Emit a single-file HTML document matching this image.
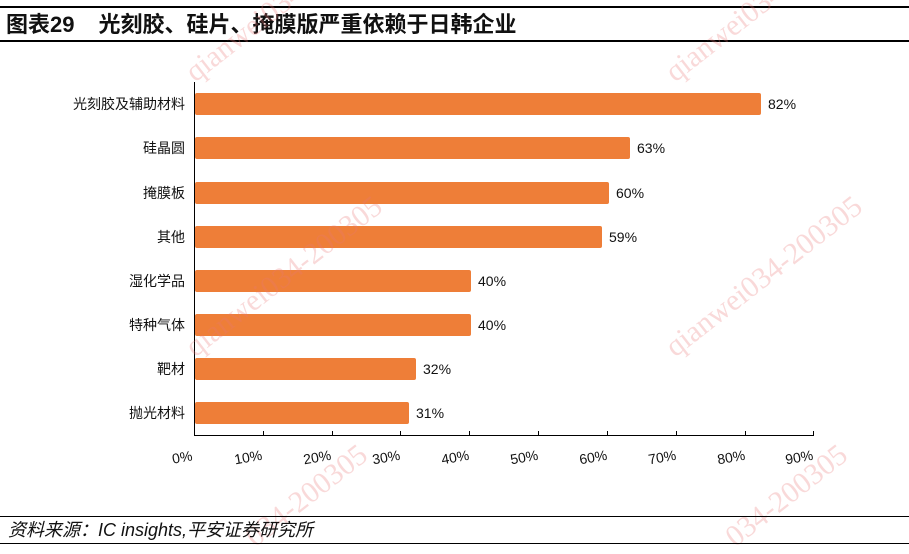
<!DOCTYPE html>
<html><head><meta charset="utf-8"><style>
body{margin:0;width:909px;height:548px;background:#fff;overflow:hidden;font-family:"Liberation Sans","Noto Sans CJK SC",sans-serif;position:relative}
.abs{position:absolute}
.wm{position:absolute;color:rgba(235,120,120,0.28);font-family:"Liberation Serif",serif;font-size:30px;transform:rotate(-38deg);transform-origin:left bottom;white-space:nowrap}
</style></head><body>
<div class="abs" style="left:0;top:6px;width:909px;height:2px;background:#000"></div>
<div class="abs" style="left:6px;top:11px;font-size:22px;font-weight:bold;line-height:28px;color:#111">图表29<span style="margin-left:24px">光刻胶、硅片、掩膜版严重依赖于日韩企业</span></div>
<div class="abs" style="left:0;top:40px;width:909px;height:2px;background:#000"></div>

<svg class="abs" style="left:0;top:0" width="909" height="548">
<g font-family="Liberation Sans, Noto Sans CJK SC, sans-serif" font-size="14" fill="#111">
<line x1="194.5" y1="82" x2="194.5" y2="435" stroke="#000"/>
<line x1="194" y1="435.5" x2="814" y2="435.5" stroke="#000"/>
<g stroke="#000">
<line x1="194.5" y1="431" x2="194.5" y2="435"/><line x1="263.5" y1="431" x2="263.5" y2="435"/><line x1="332.5" y1="431" x2="332.5" y2="435"/><line x1="400.5" y1="431" x2="400.5" y2="435"/><line x1="469.5" y1="431" x2="469.5" y2="435"/><line x1="538.5" y1="431" x2="538.5" y2="435"/><line x1="607.5" y1="431" x2="607.5" y2="435"/><line x1="676.5" y1="431" x2="676.5" y2="435"/><line x1="745.5" y1="431" x2="745.5" y2="435"/><line x1="813.5" y1="431" x2="813.5" y2="435"/>
</g>
<g fill="#EE7E38">
<rect x="195" y="93" width="566" height="22" rx="2"/>
<rect x="195" y="137" width="435" height="22" rx="2"/>
<rect x="195" y="182" width="414" height="22" rx="2"/>
<rect x="195" y="226" width="407" height="22" rx="2"/>
<rect x="195" y="270" width="276" height="22" rx="2"/>
<rect x="195" y="314" width="276" height="22" rx="2"/>
<rect x="195" y="358" width="221" height="22" rx="2"/>
<rect x="195" y="402" width="214" height="22" rx="2"/>
</g>
<g text-anchor="end">
<text x="185" y="109">光刻胶及辅助材料</text><text x="185" y="153">硅晶圆</text><text x="185" y="198">掩膜板</text><text x="185" y="242">其他</text><text x="185" y="286">湿化学品</text><text x="185" y="330">特种气体</text><text x="185" y="374">靶材</text><text x="185" y="418">抛光材料</text>
</g>
<text x="768" y="109">82%</text><text x="637" y="153">63%</text><text x="616" y="198">60%</text><text x="609" y="242">59%</text><text x="478" y="286">40%</text><text x="478" y="330">40%</text><text x="423" y="374">32%</text><text x="416" y="418">31%</text>
<g text-anchor="middle">
<text transform="translate(183,462) rotate(-10)">0%</text><text transform="translate(249,462) rotate(-10)">10%</text><text transform="translate(318,462) rotate(-10)">20%</text><text transform="translate(387,462) rotate(-10)">30%</text><text transform="translate(456,462) rotate(-10)">40%</text><text transform="translate(525,462) rotate(-10)">50%</text><text transform="translate(594,462) rotate(-10)">60%</text><text transform="translate(663,462) rotate(-10)">70%</text><text transform="translate(732,462) rotate(-10)">80%</text><text transform="translate(800,462) rotate(-10)">90%</text>
</g>
</g>
</svg>
<div class="wm" style="left:200px;top:55px">qianwei034</div>
<div class="wm" style="left:680px;top:55px">qianwei034</div>
<div class="wm" style="left:200px;top:330px">qianwei034-200305</div>
<div class="wm" style="left:680px;top:330px">qianwei034-200305</div>
<div class="wm" style="left:260px;top:520px">034-200305</div>
<div class="wm" style="left:740px;top:520px">034-200305</div>
<div class="abs" style="left:0;top:516px;width:909px;height:1px;background:#000"></div>
<div class="abs" style="left:8px;top:518px;font-size:18px;font-style:italic;color:#111;line-height:24px">资料来源：IC insights,平安证券研究所</div>
<div class="abs" style="left:0;top:543px;width:909px;height:1px;background:#000"></div>
</body></html>
